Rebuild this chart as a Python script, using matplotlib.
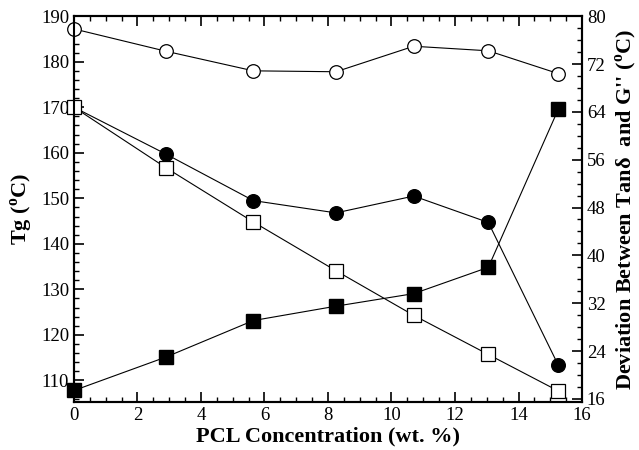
import matplotlib
matplotlib.use("Agg")
import matplotlib.pyplot as plt
from matplotlib.ticker import MultipleLocator

plt.rcParams["font.family"] = ["Liberation Serif", "DejaVu Serif"]
plt.rcParams["mathtext.fontset"] = "custom"
plt.rcParams["mathtext.rm"] = "Liberation Serif:bold"
plt.rcParams["mathtext.bf"] = "Liberation Serif:bold"

# PCL content (wt. %)
pcl = [0, 2.9, 5.65, 8.25, 10.7, 13.05, 15.25]

# Tg values, left axis (deg C)
tg_open_circle = [187.2, 182.3, 178.0, 177.8, 183.4, 182.4, 177.4]
tg_filled_circle = [170.0, 159.7, 149.5, 146.8, 150.5, 144.7, 113.4]
tg_open_square = [170.0, 156.7, 144.8, 134.1, 124.3, 115.7, 107.7]

# deviation between tan delta and G'', right axis (deg C)
deviation = [17.4, 23.0, 29.1, 31.5, 33.6, 38.0, 64.4]

fig = plt.figure(figsize=(6.39, 4.50), dpi=100)
ax = fig.add_axes([0.1158, 0.107, 0.7950, 0.857])
ax2 = ax.twinx()

ms = 9.8
ax.plot(pcl, tg_filled_circle, "-o", color="black", lw=0.8, ms=ms,
        mfc="black", mec="black", zorder=2, clip_on=False)
ax.plot(pcl, tg_open_square, "-s", color="black", lw=0.8, ms=ms,
        mfc="white", mec="black", mew=0.9, zorder=3, clip_on=False)
ax.plot(pcl, tg_open_circle, "-o", color="black", lw=0.8, ms=ms,
        mfc="white", mec="black", mew=0.9, zorder=3, clip_on=False)
ax2.plot(pcl, deviation, "-s", color="black", lw=0.8, ms=ms,
         mfc="black", mec="black", clip_on=False)

ax.set_xlim(0, 16)
ax.set_ylim(105.3, 190)
ax2.set_ylim(15.5, 80)

ax.xaxis.set_major_locator(MultipleLocator(2))
ax.xaxis.set_minor_locator(MultipleLocator(0.5))
ax.yaxis.set_major_locator(MultipleLocator(10))
ax.yaxis.set_minor_locator(MultipleLocator(2))
ax2.yaxis.set_major_locator(MultipleLocator(8))
ax2.yaxis.set_minor_locator(MultipleLocator(2))

ax.tick_params(axis="x", which="both", direction="in", top=True, labelsize=13.5)
ax.tick_params(axis="y", which="both", direction="in", right=False, labelsize=13.5)
ax2.tick_params(axis="y", which="both", direction="in", labelsize=13.5)
for a in (ax, ax2):
    a.tick_params(which="major", length=7, width=1.2)
    a.tick_params(which="minor", length=3.5, width=1.0)
    for s in a.spines.values():
        s.set_linewidth(1.5)

ax.set_xlabel("PCL Concentration (wt. %)", fontsize=16, fontweight="bold", labelpad=2)
ax.set_ylabel(r"Tg ($^{\rm o}$C)", fontsize=16, fontweight="bold", labelpad=4)
ax2.set_ylabel(r"Deviation Between Tan$\mathrm{\delta}$  and G'' ($^{\rm o}$C)",
               fontsize=16, fontweight="bold", labelpad=6)

fig.savefig("out.png", dpi=100)
